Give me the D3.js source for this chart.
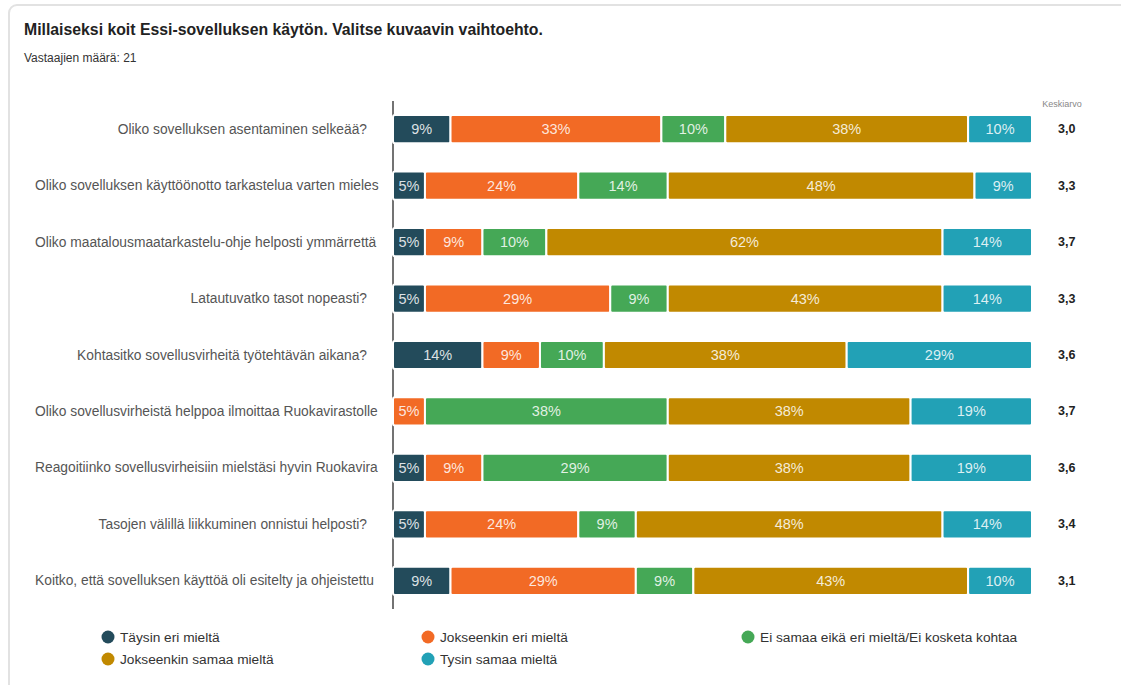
<!DOCTYPE html>
<html>
<head>
<meta charset="utf-8">
<script src="https://cdn.jsdelivr.net/npm/d3@7"></script>
<style>
  html, body { margin: 0; padding: 0; background: #fff; }
  svg { display: block; font-family: "Liberation Sans", Arial, sans-serif; }
</style>
</head>
<body>
<svg id="chart" width="1121" height="685"></svg>
<script>
// Survey questions as shown in the label column (long ones cut at the column edge)
const questions = [
  "Oliko sovelluksen asentaminen selkeää?",
  "Oliko sovelluksen käyttöönotto tarkastelua varten mieles",
  "Oliko maatalousmaatarkastelu-ohje helposti ymmärrettä",
  "Latautuvatko tasot nopeasti?",
  "Kohtasitko sovellusvirheitä työtehtävän aikana?",
  "Oliko sovellusvirheistä helppoa ilmoittaa Ruokavirastolle",
  "Reagoitiinko sovellusvirheisiin mielstäsi hyvin Ruokavira",
  "Tasojen välillä liikkuminen onnistui helposti?",
  "Koitko, että sovelluksen käyttöä oli esitelty ja ohjeistettu"
];

const answerOptions = [
  "Täysin eri mieltä",
  "Jokseenkin eri mieltä",
  "Ei samaa eikä eri mieltä/Ei kosketa kohtaa",
  "Jokseenkin samaa mieltä",
  "Tysin samaa mieltä"
];

// Share of answers per option (%), one array per answer option
const taysinEri       = [9, 5, 5, 5, 14, 0, 5, 5, 9];
const jokseenkinEri   = [33, 24, 9, 29, 9, 5, 9, 24, 29];
const eiSamaaEikaEri  = [10, 14, 10, 9, 10, 38, 29, 9, 9];
const jokseenkinSamaa = [38, 48, 62, 43, 38, 38, 38, 48, 43];
const taysinSamaa     = [10, 9, 14, 14, 29, 19, 19, 14, 10];

// Mean score per question
const averages = ["3,0", "3,3", "3,7", "3,3", "3,6", "3,7", "3,6", "3,4", "3,1"];

const colors = ["#234b5b", "#f26a25", "#45a856", "#c18900", "#22a1b6"];
const seriesValues = [taysinEri, jokseenkinEri, eiSamaaEikaEri, jokseenkinSamaa, taysinSamaa];

const svg = d3.select("#chart");

// Card frame
svg.append("rect")
  .attr("x", 9).attr("y", 5)
  .attr("width", 1140).attr("height", 720)
  .attr("rx", 8)
  .attr("fill", "#fff")
  .attr("stroke", "#e2e2e2")
  .attr("stroke-width", 2);

svg.append("text")
  .attr("x", 24).attr("y", 35)
  .attr("font-size", 15.8).attr("font-weight", "bold").attr("fill", "#222")
  .text("Millaiseksi koit Essi-sovelluksen käytön. Valitse kuvaavin vaihtoehto.");

svg.append("text")
  .attr("x", 24).attr("y", 62)
  .attr("font-size", 12).attr("fill", "#333")
  .text("Vastaajien määrä: 21");

const x = d3.scaleLinear().domain([0, 100]).range([393, 1032]);
const y = d3.scaleBand().domain(questions).range([101, 609])
  .paddingInner(0.5).paddingOuter(0.25);

// Build stacked rows
const stackData = questions.map((q, i) => {
  const o = { q };
  answerOptions.forEach((a, k) => { o[a] = seriesValues[k][i]; });
  return o;
});
const stacked = d3.stack().keys(answerOptions)(stackData);

// Vertical axis line
svg.append("line")
  .attr("x1", x(0)).attr("x2", x(0))
  .attr("y1", 101).attr("y2", 609)
  .attr("stroke", "#444").attr("stroke-width", 1.5);

// Category labels, clipped to the label column
svg.append("clipPath").attr("id", "labelClip")
  .append("rect").attr("x", 33).attr("y", 90).attr("width", 346).attr("height", 530);

const labelG = svg.append("g").attr("clip-path", "url(#labelClip)");
labelG.selectAll("text").data(questions).join("text")
  .attr("font-size", 13.8)
  .attr("fill", "#555")
  .attr("dominant-baseline", "central")
  .attr("y", d => y(d) + y.bandwidth() / 2)
  .text(d => d)
  .each(function () {
    const w = this.getComputedTextLength();
    const sel = d3.select(this);
    if (w > 332) sel.attr("x", 35).attr("text-anchor", "start");
    else sel.attr("x", 367).attr("text-anchor", "end");
  });

// Bars
const layer = svg.append("g").selectAll("g").data(stacked).join("g")
  .attr("fill", (d, i) => colors[i]);

layer.selectAll("rect").data(d => d.filter(p => p[1] - p[0] > 0)).join("rect")
  .attr("x", d => x(d[0]))
  .attr("y", d => y(d.data.q))
  .attr("width", d => x(d[1]) - x(d[0]))
  .attr("height", y.bandwidth())
  .attr("rx", 2)
  .attr("stroke", "#fff")
  .attr("stroke-width", 2);

layer.selectAll("text").data(d => d.filter(p => p[1] - p[0] > 0)).join("text")
  .attr("x", d => (x(d[0]) + x(d[1])) / 2)
  .attr("y", d => y(d.data.q) + y.bandwidth() / 2)
  .attr("text-anchor", "middle")
  .attr("dominant-baseline", "central")
  .attr("font-size", 14.5)
  .attr("fill", "rgba(255,255,255,0.85)")
  .text(d => (d[1] - d[0]) + "%");

// Mean column
svg.append("text")
  .attr("x", 1062).attr("y", 107)
  .attr("text-anchor", "middle")
  .attr("font-size", 9).attr("fill", "#888")
  .text("Keskiarvo");

svg.append("g").selectAll("text").data(questions).join("text")
  .attr("x", 1058)
  .attr("y", d => y(d) + y.bandwidth() / 2)
  .attr("dominant-baseline", "central")
  .attr("font-size", 12.5).attr("font-weight", "bold").attr("fill", "#222")
  .text((d, i) => averages[i]);

// Legend
const legendPos = [
  [108, 637], [428, 637], [748, 637],
  [108, 659], [428, 659]
];
const legend = svg.append("g").selectAll("g").data(answerOptions).join("g")
  .attr("transform", (d, i) => `translate(${legendPos[i][0]},${legendPos[i][1]})`);
legend.append("circle").attr("r", 6.5).attr("fill", (d, i) => colors[i]);
legend.append("text")
  .attr("x", 12).attr("dominant-baseline", "central")
  .attr("font-size", 13.7).attr("fill", "#333")
  .text(d => d);
</script>
</body>
</html>
